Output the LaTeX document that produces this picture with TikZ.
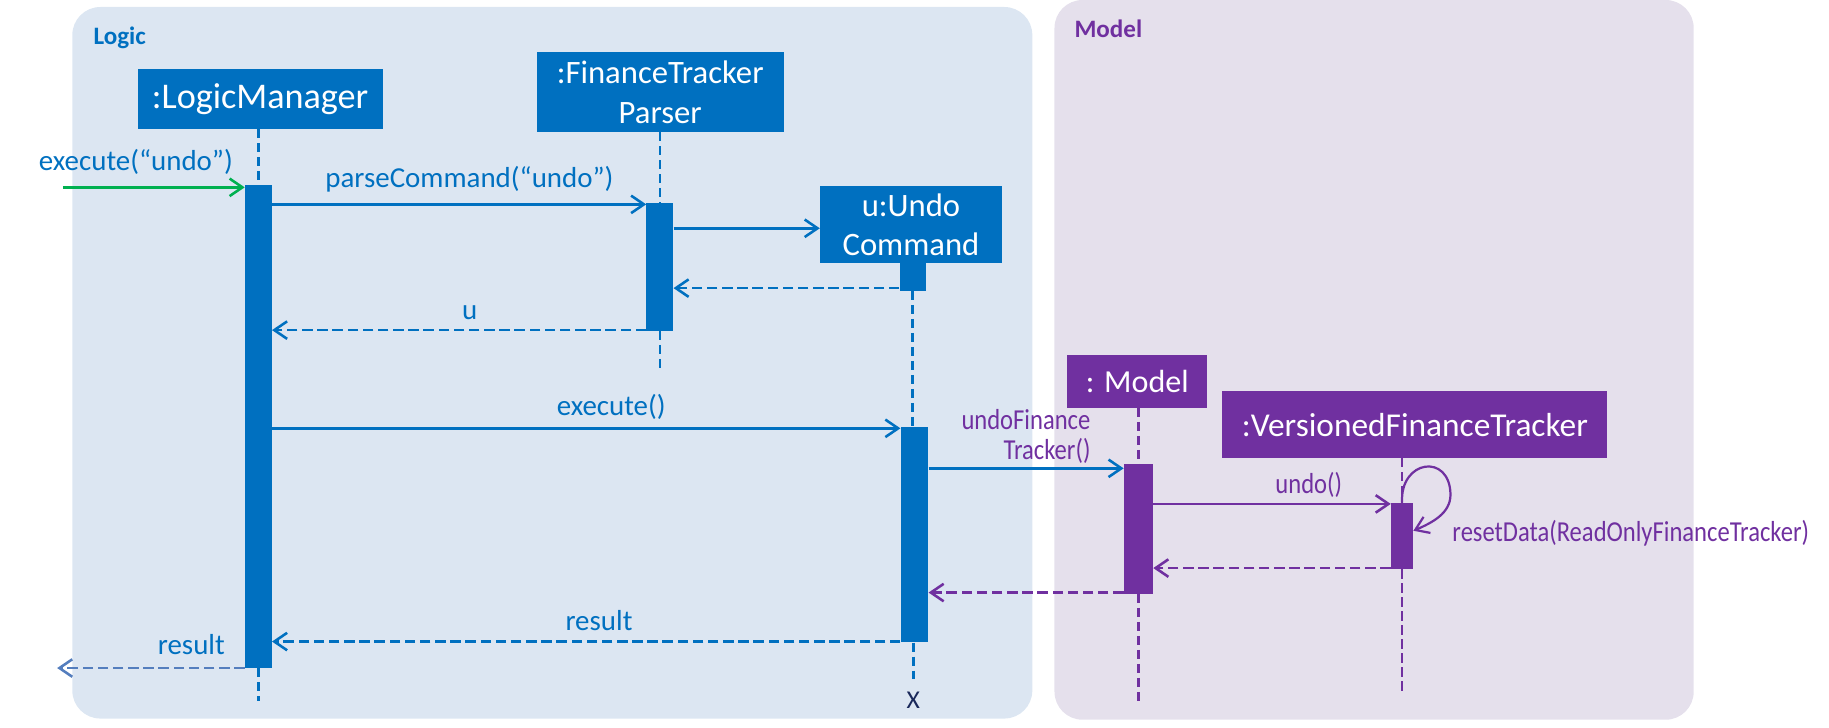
\documentclass[tikz,border=0pt]{standalone}
\usepackage{fontspec}
\setmainfont{Carlito}
\newfontfamily\condfont[FakeStretch=0.85]{Carlito}
\usetikzlibrary{arrows.meta}
\definecolor{lblue}{RGB}{0,112,192}
\definecolor{lpurple}{RGB}{112,48,160}
\definecolor{logicbg}{RGB}{220,230,242}
\definecolor{modelbg}{RGB}{229,224,236}
\definecolor{lgreen}{RGB}{0,176,80}
\definecolor{resblue}{RGB}{84,126,190}
\definecolor{xnavy}{RGB}{25,40,90}
\begin{document}
\begin{tikzpicture}[x=1pt,y=-1pt,
  panel/.style={rounded corners=24pt, fill=#1, draw=none, inner sep=0pt},
  objbox/.style={fill=#1, text=white, inner sep=0pt, align=center},
  actbar/.style={fill=#1, inner sep=0pt, minimum width=23pt, draw=none},
  lifeline/.style={draw=#1, line width=2.3pt, dash pattern=on 8pt off 4pt},
  call/.style={draw=#1, line width=2.2pt, -{Straight Barb[length=11pt,width=15pt]}},
  reply/.style={draw=#1, line width=2.2pt, dash pattern=on 9pt off 4pt, -{Straight Barb[length=11pt,width=15pt]}},
  msglabel/.style={inner sep=0pt, text=#1, font=\fontsize{24.8}{28}\selectfont},
  modlabel/.style={inner sep=0pt, text=lpurple, font=\condfont\fontsize{24.8}{25.7}\selectfont},
  panellabel/.style={inner sep=0pt, anchor=west, text=#1, font=\bfseries\fontsize{21.5}{24}\selectfont}
]
\useasboundingbox (0,0) rectangle (1568,624);

% panels
\node[panel=logicbg, minimum width=823pt, minimum height=610pt] (logicpanel) at (473.5,311) {};
\node[panel=modelbg, minimum width=548pt, minimum height=617pt] (modelpanel) at (1178,308.5) {};
\node[panellabel=lblue] (logiclabel) at (80,32) {Logic};
\node[panellabel=lpurple] (modellabel) at (921,25) {Model};

% objects
\node[objbox=lblue, minimum width=210pt, minimum height=51pt, font=\fontsize{31}{36}\selectfont] (lm) at (223,85) {:LogicManager};
\node[objbox=lblue, minimum width=212pt, minimum height=68pt, font=\fontsize{28}{33.8}\selectfont] (parser) at (566,79) {:FinanceTracker\\Parser};
\node[objbox=lblue, minimum width=156pt, minimum height=66pt, font=\fontsize{28}{33.4}\selectfont] (undocmd) at (781,192.6) {u:Undo\\Command};
\node[objbox=lpurple, minimum width=120pt, minimum height=45pt, font=\fontsize{27.5}{32}\selectfont] (model) at (975,327) {: Model};
\node[objbox=lpurple, minimum width=330pt, minimum height=57pt, font=\fontsize{28.6}{33}\selectfont] (vft) at (1213,364) {:VersionedFinanceTracker};

% activation bars
\node[actbar=lblue, minimum height=414pt] (lmact) at (221.5,365.6) {};
\node[actbar=lblue, minimum height=109pt] (pact) at (565.7,228.9) {};
\node[actbar=lblue, minimum width=22.6pt, minimum height=23.5pt] (uact1) at (782.5,237.5) {};
\node[actbar=lblue, minimum width=23.7pt, minimum height=184.3pt] (uact2) at (784,458.5) {};
\node[actbar=lpurple, minimum width=25pt, minimum height=111pt] (mact) at (976,453.4) {};
\node[actbar=lpurple, minimum width=19pt, minimum height=57pt] (vact) at (1202,459.5) {};

% lifeline ends
\coordinate (lmend) at (221.5,600.6);
\coordinate (pend) at (565.7,318);
\coordinate (uend) at (783,582);
\coordinate (mend) at (976,603);
\coordinate (vend) at (1202,596);

% lifelines
\draw[lifeline=lblue] (lm.south -| lmact) -- (lmact.north);
\draw[lifeline=lblue] (lmact.south) -- (lmend);
\draw[lifeline=lblue] (parser.south -| pact) -- (pact.north);
\draw[lifeline=lblue] (pact.south) -- (pend);
\draw[lifeline=lblue] (uact1.south) -- (uact1.south |- uact2.north);
\draw[lifeline=lblue] (uact2.south -| uend) -- (uend);
\draw[lifeline=lpurple] (model.south -| mact) -- (mact.north);
\draw[lifeline=lpurple] (mact.south) -- (mend);
\draw[lifeline=lpurple] (vft.south -| vact) -- (vact.north);
\draw[lifeline=lpurple] (vact.south) -- (vend);

\node[inner sep=0pt, text=xnavy, font=\fontsize{22}{24}\selectfont] (destroy) at (783,600) {X};

% messages
\coordinate (extsrc) at (54,160.6);
\draw[call=lgreen] (extsrc) -- (lmact.west |- extsrc);
\node[msglabel=lblue] (l1) at (116.5,139) {execute(“undo”)};

\draw[call=lblue] (lmact.east |- 0,175.2) -- (pact.west |- 0,175.2);
\node[msglabel=lblue] (l2) at (402.5,154) {parseCommand(“undo”)};

\draw[call=lblue] (pact.east |- 0,195.7) -- (undocmd.west |- 0,195.7);
\draw[reply=lblue] (uact1.west |- 0,247) -- (pact.east |- 0,247);

\draw[reply=lblue] (pact.west |- 0,283) -- (lmact.east |- 0,283);
\node[msglabel=lblue] (l5) at (402.7,268) {u};

\draw[call=lblue] (lmact.east |- 0,367.2) -- (uact2.west |- 0,367.2);
\node[msglabel=lblue] (l6) at (524,348.6) {execute()};

\draw[call=lblue] (uact2.east |- 0,401.5) -- (mact.west |- 0,401.5);
\node[modlabel, anchor=east, align=right] (l7) at (935,374) {undoFinance\\Tracker()};

\draw[call=lpurple] (mact.east |- 0,432) -- (vact.west |- 0,432);
\node[modlabel] (l8) at (1122,416) {undo()};

\draw[call=lpurple, line width=1.9pt] (vact.north) .. controls (1200,394) and (1243,388) .. (1243.5,424) .. controls (1243.5,440) and (1228,448) .. (vact.east |- 0,455);
\node[modlabel, anchor=west] (l9) at (1245,457.4) {resetData(ReadOnlyFinanceTracker)};

\draw[reply=lpurple] (vact.west |- 0,487) -- (mact.east |- 0,487);
\draw[reply=lpurple] (mact.west |- 0,508) -- (uact2.east |- 0,508);

\draw[reply=lblue] (uact2.west |- 0,550) -- (lmact.east |- 0,550);
\node[msglabel=lblue] (l12) at (513.5,532) {result};

\coordinate (extdst) at (49,572.7);
\draw[reply=resblue] (lmact.west |- extdst) -- (extdst);
\node[msglabel=lblue] (l13) at (164,553) {result};
\end{tikzpicture}
\end{document}
